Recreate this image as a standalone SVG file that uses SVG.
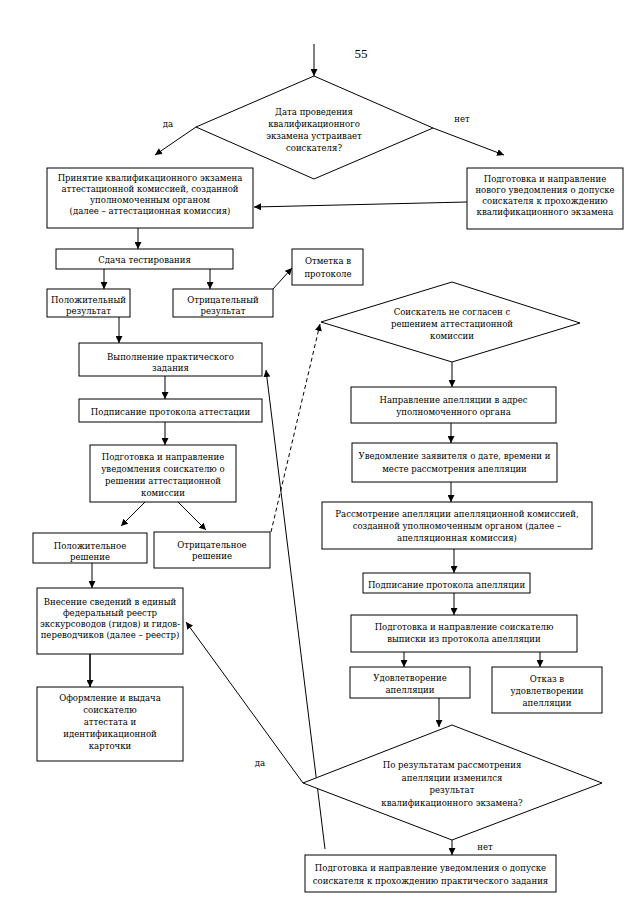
<svg xmlns="http://www.w3.org/2000/svg" width="640" height="905" viewBox="0 0 640 905">
<defs>
<marker id="ah" viewBox="0 0 10 10" refX="10" refY="5" markerWidth="7" markerHeight="7" markerUnits="userSpaceOnUse" orient="auto">
<path d="M0,0 L10,5 L0,10 z" fill="#000"/>
</marker>
</defs>
<style>
rect, polygon { fill: #fff; stroke: #000; stroke-width: 1; }
.c line { stroke: #000; stroke-width: 1; marker-end: url(#ah); }
.c .dash { stroke-dasharray: 4 3; }
.c .thick { stroke-width: 1.6; }
text { font-family: "DejaVu Serif Condensed", "DejaVu Serif", serif; font-stretch: condensed; font-size: 9.5px; fill: #000; text-anchor: middle; }
.pg { font-size: 13px; font-family: "Liberation Serif", serif; font-stretch: normal; }
</style>
<rect x="0" y="0" width="640" height="905" style="fill:#fff;stroke:none"/>
<text class="pg" x="361" y="58">55</text>

<g class="c">
<line x1="314" y1="44" x2="314" y2="76"/>
<line x1="196" y1="127" x2="155" y2="155"/>
<line x1="433" y1="128" x2="504" y2="155"/>
<line x1="467" y1="202" x2="254" y2="207"/>
<line x1="138" y1="228" x2="138" y2="249"/>
<line x1="104" y1="269" x2="104" y2="289"/>
<line x1="210" y1="269" x2="210" y2="289"/>
<line x1="273" y1="289" x2="292" y2="268"/>
<line x1="119" y1="317" x2="119" y2="343"/>
<line x1="165" y1="376" x2="165" y2="399"/>
<line x1="165" y1="422" x2="165" y2="445"/>
<line x1="145" y1="502" x2="121" y2="526"/>
<line x1="178" y1="502" x2="206" y2="530"/>
<line x1="92" y1="563" x2="92" y2="588"/>
<line class="thick" x1="90" y1="654" x2="90" y2="687"/>
<line class="dash" x1="271" y1="532" x2="320" y2="324"/>
<line x1="452" y1="362" x2="452" y2="387"/>
<line x1="451" y1="423" x2="451" y2="443"/>
<line x1="451" y1="482" x2="451" y2="502"/>
<line x1="454" y1="549" x2="454" y2="573"/>
<line x1="454" y1="593" x2="454" y2="615"/>
<line x1="404" y1="652" x2="404" y2="667"/>
<line x1="540" y1="652" x2="540" y2="667"/>
<line x1="439" y1="698" x2="439" y2="727"/>
<line x1="452" y1="840" x2="452" y2="855"/>
<line x1="303" y1="783" x2="186" y2="622"/>
<line x1="325" y1="849" x2="266" y2="370"/>
</g>

<g id="d1">
<polygon points="314,76 433,128 314,179 196,127"/>
<text x="314" y="115">Дата проведения</text>
<text x="314" y="127">квалификационного</text>
<text x="314" y="139">экзамена устраивает</text>
<text x="314" y="151">соискателя?</text>
</g>
<text x="168" y="127">да</text>
<text x="462" y="122">нет</text>

<g id="b1">
<rect x="47" y="168" width="206" height="60"/>
<text x="150" y="181">Принятие квалификационного экзамена</text>
<text x="150" y="192">аттестационной комиссией, созданной</text>
<text x="150" y="203">уполномоченным органом</text>
<text x="150" y="214">(далее – аттестационная комиссия)</text>
</g>

<g id="b2">
<rect x="467" y="168" width="156" height="61"/>
<text x="545" y="182">Подготовка и направление</text>
<text x="545" y="193">нового уведомления о допуске</text>
<text x="545" y="204">соискателя к прохождению</text>
<text x="545" y="215">квалификационного экзамена</text>
</g>

<g id="b3">
<rect x="56" y="249" width="177" height="20"/>
<text x="144.5" y="263">Сдача тестирования</text>
</g>

<g id="b4">
<rect x="47" y="289" width="83" height="28"/>
<text x="88.5" y="303">Положительный</text>
<text x="88.5" y="314">результат</text>
</g>

<g id="b5">
<rect x="173" y="289" width="100" height="28"/>
<text x="223" y="303">Отрицательный</text>
<text x="223" y="314">результат</text>
</g>

<g id="b6">
<rect x="292" y="249" width="71" height="36"/>
<text x="328" y="264">Отметка в</text>
<text x="328" y="277">протоколе</text>
</g>

<g id="b7">
<rect x="79" y="343" width="183" height="33"/>
<text x="170.5" y="360">Выполнение практического</text>
<text x="170.5" y="371">задания</text>
</g>

<g id="b8">
<rect x="79" y="399" width="183" height="23"/>
<text x="170.5" y="415">Подписание протокола аттестации</text>
</g>

<g id="b9">
<rect x="90" y="445" width="146" height="57"/>
<text x="163" y="460">Подготовка и направление</text>
<text x="163" y="472">уведомления соискателю о</text>
<text x="163" y="484">решении аттестационной</text>
<text x="163" y="496">комиссии</text>
</g>

<g id="b10">
<rect x="33" y="533" width="114" height="30"/>
<text x="90" y="549">Положительное</text>
<text x="90" y="560">решение</text>
</g>

<g id="b11">
<rect x="154" y="532" width="116" height="36"/>
<text x="212" y="548">Отрицательное</text>
<text x="212" y="559">решение</text>
</g>

<g id="b12">
<rect x="37" y="588" width="146" height="66"/>
<text x="110" y="605">Внесение сведений в единый</text>
<text x="110" y="616">федеральный реестр</text>
<text x="110" y="627">экскурсоводов (гидов) и гидов-</text>
<text x="110" y="638">переводчиков (далее – реестр)</text>
</g>

<g id="b13">
<rect x="37" y="687" width="146" height="74"/>
<text x="110" y="701">Оформление и выдача</text>
<text x="110" y="713">соискателю</text>
<text x="110" y="725">аттестата и</text>
<text x="110" y="737">идентификационной</text>
<text x="110" y="749">карточки</text>
</g>

<text x="260" y="766">да</text>

<g id="d2">
<polygon points="452,282 580,323 452,362 321,322"/>
<text x="452" y="315">Соискатель не согласен с</text>
<text x="452" y="327">решением аттестационной</text>
<text x="452" y="339">комиссии</text>
</g>

<g id="b14">
<rect x="351" y="387" width="205" height="36"/>
<text x="453.5" y="403">Направление апелляции в адрес</text>
<text x="453.5" y="415">уполномоченного органа</text>
</g>

<g id="b15">
<rect x="352" y="443" width="205" height="39"/>
<text x="454.5" y="459">Уведомление заявителя о дате, времени и</text>
<text x="454.5" y="472">месте рассмотрения апелляции</text>
</g>

<g id="b16">
<rect x="322" y="502" width="270" height="47"/>
<text x="457" y="517">Рассмотрение апелляции апелляционной комиссией,</text>
<text x="457" y="529">созданной уполномоченным органом (далее –</text>
<text x="457" y="541">апелляционная комиссия)</text>
</g>

<g id="b17">
<rect x="363" y="573" width="167" height="20"/>
<text x="446.5" y="588">Подписание протокола апелляции</text>
</g>

<g id="b18">
<rect x="351" y="615" width="226" height="37"/>
<text x="464" y="630">Подготовка и направление соискателю</text>
<text x="464" y="642">выписки из протокола апелляции</text>
</g>

<g id="b19">
<rect x="350" y="667" width="120" height="31"/>
<text x="410" y="681">Удовлетворение</text>
<text x="410" y="693">апелляции</text>
</g>

<g id="b20">
<rect x="492" y="667" width="110" height="46"/>
<text x="547" y="682">Отказ в</text>
<text x="547" y="694">удовлетворении</text>
<text x="547" y="706">апелляции</text>
</g>

<g id="d3">
<polygon points="452,725 602,783 452,840 303,783"/>
<text x="452" y="768">По результатам рассмотрения</text>
<text x="452" y="781">апелляции изменился</text>
<text x="452" y="793">результат</text>
<text x="452" y="806">квалификационного экзамена?</text>
</g>

<text x="485" y="850">нет</text>

<g id="b21">
<rect x="305" y="855" width="251" height="37"/>
<text x="430.5" y="871">Подготовка и направление уведомления о допуске</text>
<text x="430.5" y="884">соискателя к прохождению практического задания</text>
</g>
</svg>
